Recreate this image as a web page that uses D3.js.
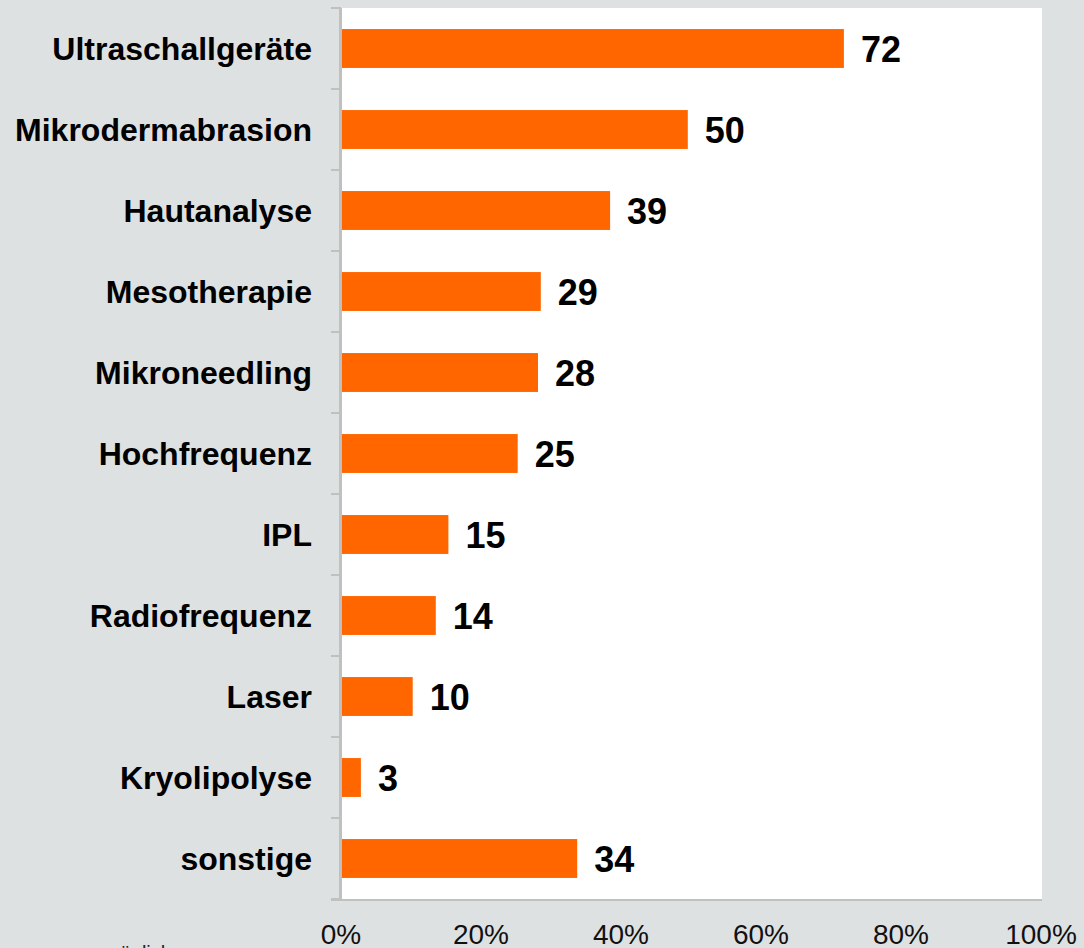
<!DOCTYPE html>
<html>
<head>
<meta charset="utf-8">
<script src="https://cdn.jsdelivr.net/npm/d3@7"></script>
<style>
  html, body { margin: 0; padding: 0; background: #dee1e2; }
  svg { display: block; }
  text { font-family: Arial, "Liberation Sans", sans-serif; }
</style>
</head>
<body>
<svg id="chart" width="1084" height="948"></svg>
<script>
// data
const categories = ["Ultraschallgeräte", "Mikrodermabrasion", "Hautanalyse", "Mesotherapie",
  "Mikroneedling", "Hochfrequenz", "IPL", "Radiofrequenz", "Laser", "Kryolipolyse", "sonstige"]
// bar lengths in percent, as measured from the bars
const percents = [71.7, 49.4, 38.3, 28.4, 28.0, 25.1, 15.2, 13.4, 10.1, 2.7, 33.6]
// numbers printed next to the bars
const labels = [72, 50, 39, 29, 28, 25, 15, 14, 10, 3, 34]
const xTicks = [0, 20, 40, 60, 80, 100]
const footnote = "möglich"

const width = 1084, height = 948
const plot = {left: 341, right: 1041, top: 8, bottom: 899}

let svg = d3.select("#chart")

let x = d3.scaleLinear().domain([0, 100]).range([plot.left, plot.right])
let y = d3.scaleBand().domain(categories).range([plot.top, plot.bottom])
  .paddingInner(0.52).paddingOuter(0.26)

// white plot area
svg.append("rect")
  .attr("x", plot.left)
  .attr("y", plot.top)
  .attr("width", plot.right - plot.left + 1)
  .attr("height", plot.bottom - plot.top)
  .attr("fill", "#ffffff")

let rows = categories.map((c, i) => ({name: c, pct: percents[i], label: labels[i]}))

svg.selectAll(".bar")
  .data(rows)
  .enter().append("rect")
  .attr("class", "bar")
  .attr("x", x(0) + 1)
  .attr("y", d => y(d.name))
  .attr("width", d => x(d.pct) - x(0))
  .attr("height", y.bandwidth())
  .attr("fill", "#ff6600")

// value labels
svg.selectAll(".val")
  .data(rows)
  .enter().append("text")
  .attr("class", "val")
  .attr("x", d => x(d.pct) + 18)
  .attr("y", d => y(d.name) + y.bandwidth() / 2 + 13)
  .attr("font-size", "36px")
  .attr("font-weight", "bold")
  .attr("fill", "#000")
  .text(d => d.label)

// category labels
svg.selectAll(".cat")
  .data(rows)
  .enter().append("text")
  .attr("class", "cat")
  .attr("x", 312)
  .attr("y", d => y(d.name) + y.bandwidth() / 2 + 11)
  .attr("text-anchor", "end")
  .attr("font-size", "32px")
  .attr("font-weight", "bold")
  .attr("fill", "#000")
  .text(d => d.name)

// category boundary ticks on the left axis
let boundaries = d3.range(categories.length + 1).map(i => plot.top + i * (plot.bottom - plot.top) / categories.length)
svg.selectAll(".ytick")
  .data(boundaries)
  .enter().append("line")
  .attr("class", "ytick")
  .attr("x1", 331).attr("x2", plot.left)
  .attr("y1", d => d).attr("y2", d => d)
  .attr("stroke", "#c0c0c0")
  .attr("stroke-width", 2)

// left axis line
svg.append("line")
  .attr("x1", plot.left - 0.5).attr("x2", plot.left - 0.5)
  .attr("y1", plot.top).attr("y2", plot.bottom + 2)
  .attr("stroke", "#c0c0c0")
  .attr("stroke-width", 3)

// bottom axis line
svg.append("line")
  .attr("x1", 331).attr("x2", plot.right + 1)
  .attr("y1", plot.bottom + 1).attr("y2", plot.bottom + 1)
  .attr("stroke", "#c0c0c0")
  .attr("stroke-width", 2)

// x tick labels
svg.selectAll(".xlab")
  .data(xTicks)
  .enter().append("text")
  .attr("class", "xlab")
  .attr("x", d => x(d))
  .attr("y", 944)
  .attr("text-anchor", "middle")
  .attr("font-size", "28px")
  .attr("fill", "#111")
  .text(d => d + "%")

// cut-off footnote at the bottom edge
svg.append("text")
  .attr("x", 103)
  .attr("y", 960)
  .attr("font-size", "20px")
  .attr("fill", "#222")
  .text(footnote)
</script>
</body>
</html>
